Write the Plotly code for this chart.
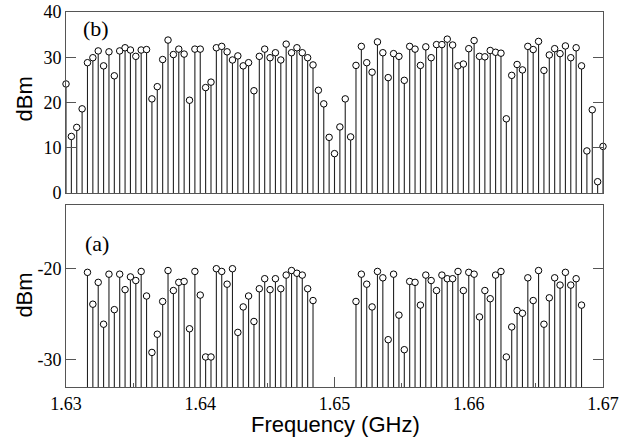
import plotly.graph_objects as go

# Channel frequencies (GHz)
freq = [
    1.6300, 1.6304, 1.6308, 1.6312, 1.6316, 1.6320, 1.6324, 1.6328, 1.6332, 1.6336,
    1.6340, 1.6344, 1.6348, 1.6352, 1.6356, 1.6360, 1.6364, 1.6368, 1.6372, 1.6376,
    1.6380, 1.6384, 1.6388, 1.6392, 1.6396, 1.6400, 1.6404, 1.6408, 1.6412, 1.6416,
    1.6420, 1.6424, 1.6428, 1.6432, 1.6436, 1.6440, 1.6444, 1.6448, 1.6452, 1.6456,
    1.6460, 1.6464, 1.6468, 1.6472, 1.6476, 1.6480, 1.6484, 1.6488, 1.6492, 1.6496,
    1.6500, 1.6504, 1.6508, 1.6512, 1.6516, 1.6520, 1.6524, 1.6528, 1.6532, 1.6536,
    1.6540, 1.6544, 1.6548, 1.6552, 1.6556, 1.6560, 1.6564, 1.6568, 1.6572, 1.6576,
    1.6580, 1.6584, 1.6588, 1.6592, 1.6596, 1.6600, 1.6604, 1.6608, 1.6612, 1.6616,
    1.6620, 1.6624, 1.6628, 1.6632, 1.6636, 1.6640, 1.6644, 1.6648, 1.6652, 1.6656,
    1.6660, 1.6664, 1.6668, 1.6672, 1.6676, 1.6680, 1.6684, 1.6688, 1.6692, 1.6696,
    1.6700,
]

# Panel (b): power (dBm) at every channel
power_b = [
    24.1, 12.5, 14.5, 18.6, 28.8, 29.9, 31.4, 28.1, 31.2, 25.9,
    31.4, 32.1, 31.6, 30.2, 31.6, 31.7, 20.8, 23.5, 29.5, 33.8,
    30.6, 31.8, 30.7, 20.5, 31.8, 31.8, 23.3, 24.5, 32.1, 32.4,
    31.2, 29.4, 30.3, 28.1, 28.8, 22.6, 30.2, 31.8, 29.9, 31.0,
    29.4, 32.9, 31.0, 32.1, 31.0, 29.9, 28.3, 22.7, 19.7, 12.3,
    8.7, 14.6, 20.8, 12.4, 28.2, 32.4, 28.8, 26.7, 33.4, 31.0,
    25.5, 30.8, 30.2, 24.9, 32.4, 31.8, 28.2, 32.3, 29.9, 32.8,
    32.8, 34.0, 32.7, 28.1, 28.5, 31.9, 33.7, 30.2, 30.1, 31.5,
    31.1, 30.9, 16.4, 26.0, 28.4, 27.2, 32.4, 31.7, 33.5, 27.1,
    30.5, 31.9, 30.8, 32.5, 29.9, 32.1, 28.1, 9.3, 18.4, 2.5,
    10.3,
]

# Panel (a): two bands of channels
freq_a = freq[4:47] + freq[54:97]
power_a = [
    # 1.6316 .. 1.6484
    -20.4, -23.9, -21.5, -26.1, -20.6, -24.5, -20.6, -22.3, -20.9, -21.3,
    -20.3, -23.0, -29.2, -27.2, -23.6, -20.2, -22.4, -21.5, -21.4, -26.6,
    -20.3, -22.9, -29.7, -29.7, -20.0, -20.3, -21.7, -20.0, -27.0, -24.2,
    -23.0, -25.8, -22.2, -21.1, -22.3, -21.1, -22.2, -20.7, -20.2, -20.5,
    -20.7, -22.2, -23.5,
    # 1.6516 .. 1.6684
    -23.6, -20.6, -21.7, -24.2, -20.3, -21.0, -27.8, -20.6, -25.1, -28.9,
    -21.4, -21.5, -24.0, -20.7, -21.3, -22.4, -20.7, -21.1, -21.1, -20.3,
    -22.4, -20.4, -20.6, -25.3, -22.4, -23.3, -20.7, -20.3, -29.7, -26.4,
    -24.6, -24.9, -21.0, -23.5, -20.2, -26.1, -23.2, -21.0, -21.8, -20.4,
    -21.8, -21.1, -24.0,
]

yrange_b = [0, 40]
yrange_a = [-33, -13]

def stem(x, y, base, xa, ya):
    return go.Scatter(
        x=x, y=y, xaxis=xa, yaxis=ya, mode="markers", cliponaxis=False,
        marker=dict(symbol="circle", size=6.5, color="white",
                    line=dict(color="black", width=1)),
        error_y=dict(type="data", symmetric=False,
                     array=[0] * len(y), arrayminus=[v - base for v in y],
                     width=0, thickness=1.1, color="#222"),
        showlegend=False, hoverinfo="x+y",
    )

fig = go.Figure()
fig.add_trace(stem(freq, power_b, yrange_b[0], "x2", "y2"))
fig.add_trace(stem(freq_a, power_a, yrange_a[0], "x", "y"))

frame = "#555"
serif = "Liberation Serif, Times New Roman, serif"
sans = "Liberation Sans, Arial, sans-serif"
tickfont = dict(family=serif, size=18, color="black")
titlefont = dict(family=sans, size=22, color="black")

common_x = dict(range=[1.63, 1.67], showgrid=False, zeroline=False,
                showline=True, linecolor=frame, linewidth=1, mirror=True,
                automargin=False, ticklabeloverflow="allow")
common_y = dict(showgrid=False, zeroline=False, showline=True, linecolor=frame,
                linewidth=1, mirror="ticks", ticks="inside", ticklen=10,
                tickcolor=frame, tickfont=tickfont, automargin=False,
                ticklabeloverflow="allow")

fig.update_layout(
    width=629, height=437,
    margin=dict(l=66, r=26, t=12, b=50, autoexpand=False),
    paper_bgcolor="white", plot_bgcolor="white",
    xaxis=dict(**common_x, anchor="y", domain=[0, 1],
               tickvals=[1.63, 1.64, 1.65, 1.66, 1.67],
               ticktext=["1.63", "1.64", "1.65", "1.66", "1.67"],
               ticks="inside", ticklen=10, tickcolor=frame, tickfont=tickfont,
               minor=dict(tickvals=[1.635, 1.645, 1.655, 1.665], ticks="inside",
                          ticklen=4, tickcolor=frame)),
    yaxis=dict(**common_y, domain=[0, 0.4853], range=yrange_a,
               tickvals=[-30, -20], ticktext=["-30", "-20"]),
    xaxis2=dict(**common_x, anchor="y2", showticklabels=False, ticks=""),
    yaxis2=dict(**common_y, domain=[0.5173, 1], range=yrange_b, anchor="x2",
                tickvals=[0, 10, 20, 30, 40]),
    annotations=[
        dict(text="(b)", xref="paper", yref="paper", x=0.055, y=0.957,
             xanchor="center", yanchor="middle", showarrow=False,
             font=dict(family=serif, size=22, color="black")),
        dict(text="(a)", xref="paper", yref="paper", x=0.057, y=0.384,
             xanchor="center", yanchor="middle", showarrow=False,
             font=dict(family=serif, size=22, color="black")),
        dict(text="Frequency (GHz)", xref="paper", yref="paper", x=0.501, y=-0.1013,
             xanchor="center", yanchor="middle", showarrow=False, font=titlefont),
        dict(text="dBm", xref="paper", yref="paper", x=-0.0773, y=0.768,
             xanchor="center", yanchor="middle", showarrow=False, textangle=-90,
             font=titlefont),
        dict(text="dBm", xref="paper", yref="paper", x=-0.0773, y=0.245,
             xanchor="center", yanchor="middle", showarrow=False, textangle=-90,
             font=titlefont),
    ],
)

fig.write_html("out.html", config={"displayModeBar": False},
               post_script="document.body.style.margin='0';")
